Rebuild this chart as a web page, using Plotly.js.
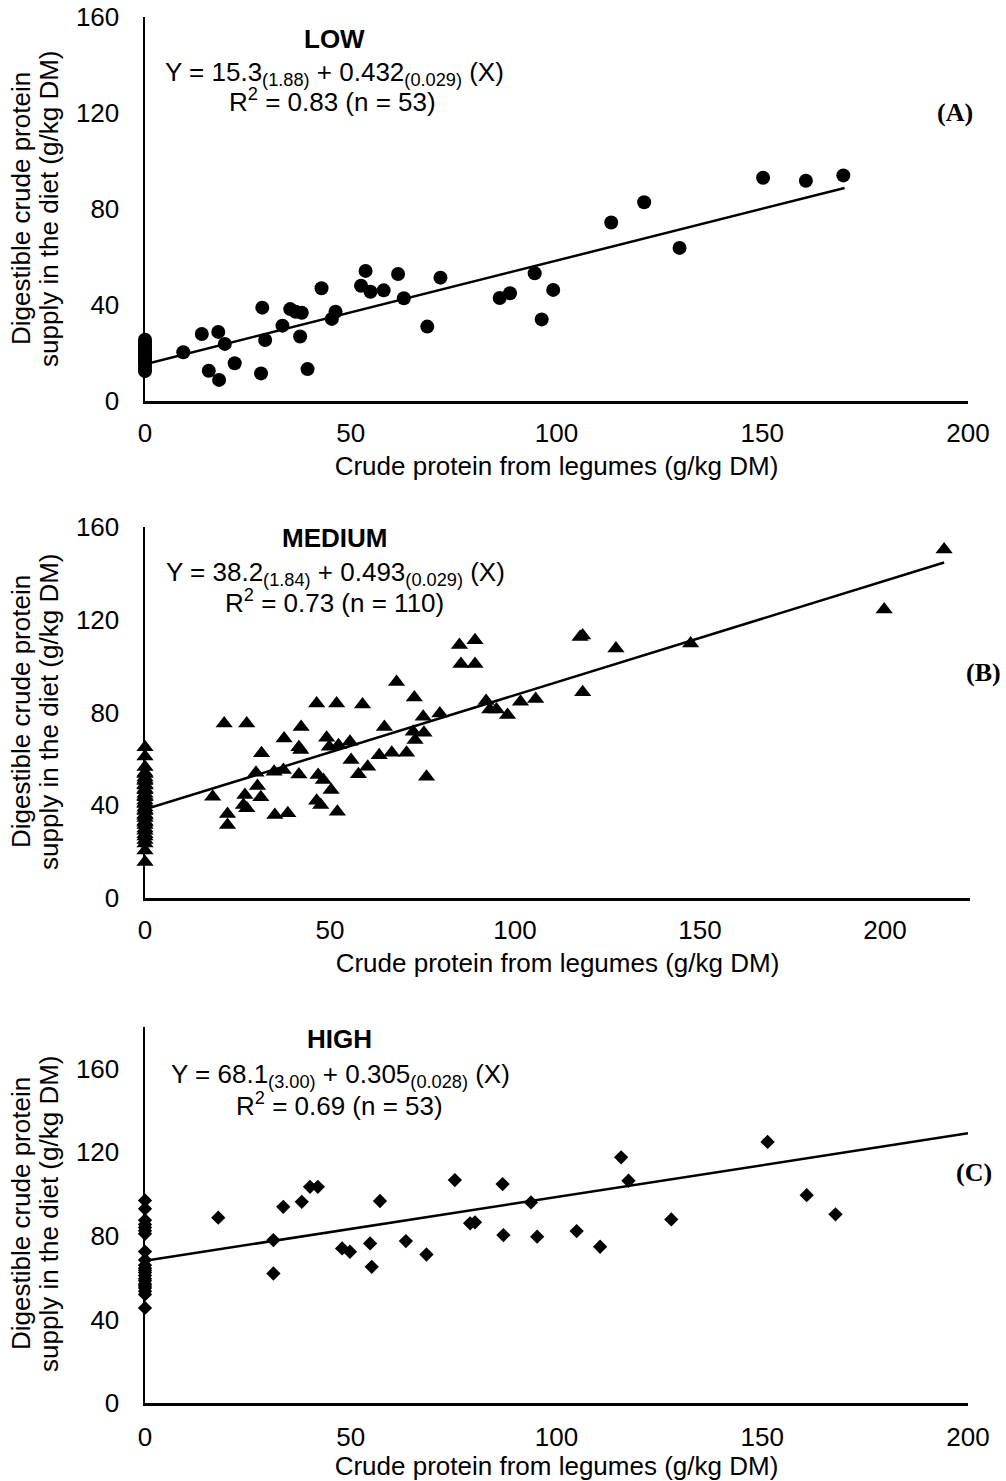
<!DOCTYPE html>
<html>
<head>
<meta charset="utf-8">
<script src="https://cdn.plot.ly/plotly-3.0.1.min.js"></script>
<style>
  html, body { margin: 0; padding: 0; background: #fff; }
  #chart { width: 1006px; height: 1481px; }
</style>
</head>
<body>
<div id="chart"></div>
<script>
// ---------- DATA ----------
// Panel A (LOW)
const lowX = [9.3, 13.8, 17.8, 19.4, 15.5, 18.0, 21.8, 28.5, 29.2, 28.2, 33.4, 35.3, 36.6, 38.1, 37.7, 39.5, 42.9, 46.3, 45.4, 53.6, 52.5, 54.8, 58.0, 61.5, 62.9, 68.6, 71.8, 86.2, 88.7, 94.7, 96.4, 99.2, 113.3, 121.3, 129.9, 150.2, 160.6, 169.7];
const lowY = [20.3, 27.9, 28.8, 23.8, 12.6, 8.8, 15.7, 38.9, 25.4, 11.5, 31.4, 38.3, 37.2, 36.8, 26.9, 13.3, 47.0, 37.2, 34.2, 54.2, 48.0, 45.5, 46.1, 52.9, 42.8, 31.0, 51.4, 42.9, 44.9, 53.2, 34.0, 46.3, 74.4, 82.8, 63.8, 93.0, 91.8, 94.0];
const lowZeroY = [12.5, 13.5, 15, 16, 17, 17.5, 18.5, 19.5, 20, 21, 22, 22.5, 23.5, 24.5, 25.5];
const lowFit = { a: 15.3, b: 0.432, xmax: 170 };

// Panel B (MEDIUM)
const medX = [21.4, 27.5, 18.3, 22.3, 22.3, 27.0, 26.6, 27.5, 31.3, 30.4, 30.0, 31.5, 34.9, 35.1, 38.6, 37.4, 37.6, 42.2, 41.6, 42.1, 41.6, 46.4, 51.8, 58.8, 46.8, 48.2, 50.3, 46.4, 47.5, 52.0, 49.1, 49.8, 52.3, 55.4, 55.7, 57.7, 60.2, 63.3, 66.7, 64.7, 68.0, 70.7, 72.8, 72.5, 73.0, 75.2, 75.4, 76.1, 79.7, 85.0, 89.2, 85.4, 89.2, 92.2, 93.2, 95.0, 98.0, 101.5, 105.6, 117.6, 118.3, 118.3, 127.3, 147.5, 199.8, 216.0];
const medY = [75.3, 75.3, 43.7, 36.2, 31.5, 44.4, 40.1, 38.7, 43.4, 48.3, 54.0, 62.4, 54.4, 35.8, 36.5, 55.2, 68.8, 73.8, 65.0, 63.8, 53.3, 83.9, 83.9, 83.5, 53.0, 50.9, 46.6, 41.9, 40.1, 37.2, 69.1, 65.2, 65.9, 67.4, 59.5, 53.4, 56.6, 61.6, 62.6, 73.8, 93.2, 62.6, 86.5, 71.7, 68.1, 78.2, 71.3, 52.3, 79.6, 109.1, 111.2, 100.9, 100.9, 85.0, 81.3, 81.3, 78.9, 84.6, 85.8, 112.6, 113.2, 88.7, 107.6, 109.8, 124.4, 150.3];
const medZeroY = [15.5, 20.5, 23.5, 25, 26.5, 27.5, 29, 30, 31.5, 32.5, 33, 34.5, 35.5, 36, 37.5, 38, 39, 40.5, 41, 42, 43.5, 44, 45, 46.5, 47, 48.5, 49, 50.5, 51, 52, 53.5, 54, 56.5, 61, 65];
const medFit = { a: 38.2, b: 0.493, xmax: 216 };

// Panel C (HIGH)
const highX = [17.8, 31.2, 31.2, 33.6, 38.1, 40.1, 42.0, 47.9, 49.8, 54.7, 55.1, 57.1, 63.4, 68.4, 75.3, 79.0, 80.2, 86.9, 87.1, 93.8, 95.3, 104.9, 110.6, 115.7, 117.5, 127.9, 151.3, 160.8, 167.8];
const highY = [88.7, 78.0, 62.0, 93.9, 96.3, 103.5, 103.5, 74.0, 72.4, 76.4, 65.2, 96.7, 77.5, 71.1, 106.7, 86.0, 86.5, 104.8, 80.4, 96.0, 79.6, 82.3, 74.8, 117.6, 106.4, 87.9, 125.0, 99.5, 90.3];
const highZeroY = [45.5, 52, 53.5, 55, 56, 57, 58.5, 59.5, 61, 62.5, 63.5, 64.5, 66, 68.5, 72.5, 81, 82.5, 84, 85.5, 87.5, 93, 97];
const highFit = { a: 68.1, b: 0.305, xmax: 200 };

const xTicks = [0, 50, 100, 150, 200];
const xTitle = 'Crude protein from legumes (g/kg DM)';
const yTitleLines = ['Digestible crude protein', 'supply in the diet (g/kg DM)'];

// ---------- BUILD ----------
const W = 1006, H = 1481;
const FONT = 'Liberation Sans, Arial, sans-serif';
const SERIF = 'Liberation Serif, Times New Roman, serif';
const FS = 26;

function withZeros(xs, ys, zeros) {
  return { x: xs.concat(zeros.map(() => 0)), y: ys.concat(zeros) };
}
function fitLine(f) {
  const xs = [0, f.xmax];
  return { x: xs, y: xs.map(v => f.a + f.b * v) };
}

const panels = [
  { xs: lowX, ys: lowY, z: lowZeroY, fit: lowFit, sym: 'circle', size: 14, xa: 'x', ya: 'y' },
  { xs: medX, ys: medY, z: medZeroY, fit: medFit, sym: 'triangle-up', size: 15, xa: 'x2', ya: 'y2' },
  { xs: highX, ys: highY, z: highZeroY, fit: highFit, sym: 'diamond', size: 11, xa: 'x3', ya: 'y3' }
];

const traces = [];
panels.forEach(p => {
  const ln = fitLine(p.fit);
  traces.push({
    type: 'scatter', mode: 'lines', x: ln.x, y: ln.y, xaxis: p.xa, yaxis: p.ya,
    line: { color: '#000', width: 2.5 }, hoverinfo: 'skip', cliponaxis: false
  });
  const pts = withZeros(p.xs, p.ys, p.z);
  traces.push({
    type: 'scatter', mode: 'markers', x: pts.x, y: pts.y, xaxis: p.xa, yaxis: p.ya,
    marker: { symbol: p.sym, size: p.size, color: '#000', line: { width: 0 } },
    hoverinfo: 'x+y', cliponaxis: false
  });
});

function xAxis(domL, domR, range, anchor, lblStand) {
  return {
    domain: [domL / W, domR / W], range: range, anchor: anchor,
    tickvals: xTicks, ticks: '', showgrid: false, zeroline: false,
    showline: true, linecolor: '#000', linewidth: 2.5,
    tickfont: { family: FONT, size: FS, color: '#000' },
    ticklabelstandoff: lblStand,
    title: { text: xTitle, font: { family: FONT, size: FS, color: '#000' }, standoff: 10 },
    automargin: false, fixedrange: true
  };
}
function yAxis(pyBottom, pyTop, range, dtick, anchor) {
  return {
    domain: [1 - pyBottom / H, 1 - pyTop / H], range: range, anchor: anchor,
    tick0: 0, dtick: dtick, ticks: '', showgrid: false, zeroline: false,
    showline: true, linecolor: '#000', linewidth: 2.5,
    tickfont: { family: FONT, size: FS, color: '#000' },
    ticklabelstandoff: 18,
    automargin: false, fixedrange: true
  };
}

function ann(text, px, py, opts) {
  return Object.assign({
    text: text, xref: 'paper', yref: 'paper', x: px / W, y: 1 - py / H,
    xanchor: 'center', yanchor: 'middle', showarrow: false,
    font: { family: FONT, size: FS, color: '#000' }
  }, opts || {});
}
function yTitleAnns(pyCenter) {
  return [
    ann(yTitleLines[0], 21, pyCenter, { textangle: -90 }),
    ann(yTitleLines[1], 49, pyCenter, { textangle: -90 })
  ];
}

const serifFont = { family: SERIF, size: 26, color: '#000' };
const annotations = [
  ann('<b>LOW</b>', 334, 39),
  ann('Y = 15.3<sub>(1.88)</sub> + 0.432<sub>(0.029)</sub> (X)', 334, 73),
  ann('R<sup>2</sup> = 0.83 (n = 53)', 332, 101),
  ann('<b>(A)</b>', 955, 112, { font: serifFont }),

  ann('<b>MEDIUM</b>', 334, 538),
  ann('Y = 38.2<sub>(1.84)</sub> + 0.493<sub>(0.029)</sub> (X)', 335, 573),
  ann('R<sup>2</sup> = 0.73 (n = 110)', 334, 602),
  ann('<b>(B)</b>', 983, 673, { font: serifFont }),

  ann('<b>HIGH</b>', 339, 1039),
  ann('Y = 68.1<sub>(3.00)</sub> + 0.305<sub>(0.028)</sub> (X)', 340, 1075),
  ann('R<sup>2</sup> = 0.69 (n = 53)', 339, 1104),
  ann('<b>(C)</b>', 974, 1172, { font: serifFont })
].concat(yTitleAnns(209), yTitleAnns(712), yTitleAnns(1214));

const layout = {
  width: W, height: H,
  margin: { l: 0, r: 0, t: 0, b: 0 },
  paper_bgcolor: '#fff', plot_bgcolor: '#fff',
  showlegend: false,
  font: { family: FONT, size: FS, color: '#000' },
  xaxis: xAxis(145, 968, [0, 200], 'y', 7),
  yaxis: yAxis(401, 17, [0, 160], 40, 'x'),
  xaxis2: xAxis(145, 970, [0, 223], 'y2', 7),
  yaxis2: yAxis(898, 527, [0, 160], 40, 'x2'),
  xaxis3: xAxis(145, 968, [0, 200], 'y3', 9),
  yaxis3: yAxis(1403, 1027, [0, 180], 40, 'x3'),
  annotations: annotations
};

Plotly.newPlot('chart', traces, layout, { displayModeBar: false, staticPlot: true });
</script>
</body>
</html>
